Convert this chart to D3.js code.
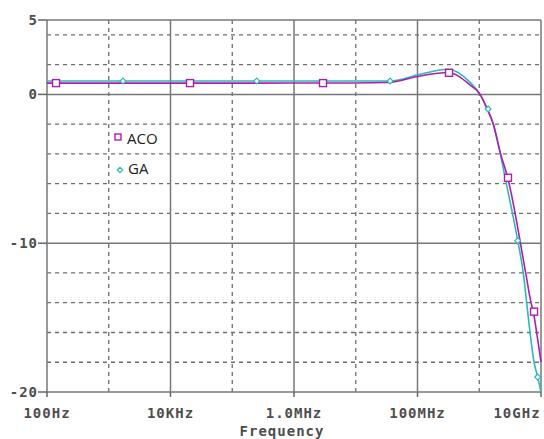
<!DOCTYPE html>
<html>
<head>
<meta charset="utf-8">
<script src="https://cdn.jsdelivr.net/npm/d3@7"></script>
<style>
  body { margin: 0; background: #fff; }
  .tick-label { font-family: "DejaVu Sans Mono", monospace; font-weight: bold; font-size: 14px; fill: #4e4e4e; letter-spacing: 1px; }
  .legend { font-family: "Open Sans", "Noto Sans", sans-serif; font-size: 15px; fill: #222; }
</style>
</head>
<body>
<div id="chart"></div>
<script>
const width = 544, height = 439,
    margin = ({ top: 20, right: 3, bottom: 47, left: 47 });

// frequency axis (Hz) and labels
const xTicks = [1e2, 1e4, 1e6, 1e8, 1e10];
const xTickLabels = ["100Hz", "10KHz", "1.0MHz", "100MHz", "10GHz"];
const xDashed = [1e3, 1e5, 1e7, 1e9];
const yTicks = [5, 0, -10, -20];
const yDashed = [4, 2, -2, -4, -6, -8, -12, -14, -16, -18];

// ACO curve (dB)
const acoFreq = [1e2, 1e5, 1e7, 3.2e7, 3.6e7, 1.1e8, 3.1e8, 7.1e8, 1.03e9, 1.35e9, 1.69e9, 2.22e9, 2.89e9, 5.65e9, 6.89e9, 7.5e9, 8.5e9, 1e10];
const acoVal  = [0.76, 0.76, 0.77, 0.8, 0.81, 1.24, 1.47, 0.63, 0, -1.0, -2.0, -4.0, -5.6, -12.0, -14.0, -14.6, -16.0, -18.0];
// GA curve (dB)
const gaFreq = [1e2, 1e5, 1e7, 3.6e7, 1.1e8, 3.12e8, 7.1e8, 1.03e9, 1.35e9, 1.69e9, 2.19e9, 2.75e9, 4.2e9, 5.16e9, 5.86e9, 6.64e9, 7.71e9, 8.85e9, 1e10];
const gaVal  = [0.9, 0.9, 0.9, 0.9, 1.35, 1.69, 0.81, 0, -0.98, -2.0, -4.0, -6.0, -9.83, -12.0, -14.0, -16.0, -18.0, -19.0, -20.0];

// marker positions
const acoMarkFreq = [1.4e2, 2.07e4, 2.95e6, 3.24e8, 2.92e9, 7.71e9];
const acoMarkVal  = [0.76, 0.76, 0.76, 1.45, -5.6, -14.6];
const gaMarkFreq = [1.7e3, 2.49e5, 3.6e7, 1.39e9, 4.2e9, 8.85e9];
const gaMarkVal  = [0.9, 0.9, 0.9, -0.98, -9.83, -19.0];

const acoColor = "#b01cb0", gaColor = "#2fb8b8";

const svg = d3.select("#chart")
    .append("svg")
    .attr("width", width)
    .attr("height", height);

let x = d3.scaleLog()
    .domain([1e2, 1e10])
    .range([margin.left, width - margin.right]);

let y = d3.scaleLinear()
    .domain([-20, 5])
    .range([392, margin.top]);

const x0 = x.range()[0], x1 = x.range()[1];
const y0 = y.range()[0], y1 = y.range()[1];

// dashed grid
svg.append("g").selectAll("line")
    .data(xDashed)
    .join("line")
    .attr("x1", d => x(d)).attr("x2", d => x(d))
    .attr("y1", y1).attr("y2", y0)
    .attr("stroke", "#6e6e6e")
    .attr("stroke-width", 1.3)
    .attr("stroke-dasharray", "4,4");

svg.append("g").selectAll("line")
    .data(yDashed)
    .join("line")
    .attr("x1", x0).attr("x2", x1)
    .attr("y1", d => y(d)).attr("y2", d => y(d))
    .attr("stroke", "#6e6e6e")
    .attr("stroke-width", 1.3)
    .attr("stroke-dasharray", "4,4");

// solid grid
svg.append("g").selectAll("line")
    .data(xTicks)
    .join("line")
    .attr("x1", d => x(d)).attr("x2", d => x(d))
    .attr("y1", y1).attr("y2", y0)
    .attr("stroke", "#777")
    .attr("stroke-width", 1.5);

svg.append("g").selectAll("line")
    .data(yTicks)
    .join("line")
    .attr("x1", x0).attr("x2", x1)
    .attr("y1", d => y(d)).attr("y2", d => y(d))
    .attr("stroke", "#777")
    .attr("stroke-width", 1.5);

// tick marks
svg.append("g").selectAll("line")
    .data(yTicks)
    .join("line")
    .attr("x1", x0 - 9).attr("x2", x0)
    .attr("y1", d => y(d)).attr("y2", d => y(d))
    .attr("stroke", "#666")
    .attr("stroke-width", 1.5);

svg.append("g").selectAll("line")
    .data(xTicks)
    .join("line")
    .attr("x1", d => x(d)).attr("x2", d => x(d))
    .attr("y1", y0).attr("y2", y0 + 5)
    .attr("stroke", "#666")
    .attr("stroke-width", 1.5);

// tick labels
svg.append("g").selectAll("text")
    .data(yTicks)
    .join("text")
    .attr("class", "tick-label")
    .attr("text-anchor", "end")
    .attr("x", x0 - 9)
    .attr("y", d => y(d))
    .attr("dy", "0.36em")
    .text(d => d);

svg.append("g").selectAll("text")
    .data(xTicks)
    .join("text")
    .attr("class", "tick-label")
    .attr("text-anchor", "middle")
    .attr("x", (d, i) => i == xTicks.length - 1 ? x(d) - 24 : x(d))
    .attr("y", 418)
    .text((d, i) => xTickLabels[i]);

svg.append("text")
    .attr("class", "tick-label")
    .attr("text-anchor", "middle")
    .attr("x", 282)
    .attr("y", 436)
    .text("Frequency");

// curves
svg.append("clipPath").attr("id", "clip")
    .append("rect")
    .attr("x", x0).attr("y", y1)
    .attr("width", x1 - x0 + 1).attr("height", y0 - y1);

let line = d3.line()
    .x(d => x(d[0]))
    .y(d => y(d[1]))
    .curve(d3.curveMonotoneX);

const plot = svg.append("g").attr("clip-path", "url(#clip)");

plot.append("path")
    .datum(d3.zip(gaFreq, gaVal))
    .attr("d", line)
    .attr("fill", "none")
    .attr("stroke", gaColor)
    .attr("stroke-width", 1.6);

plot.append("path")
    .datum(d3.zip(acoFreq, acoVal))
    .attr("d", line)
    .attr("fill", "none")
    .attr("stroke", acoColor)
    .attr("stroke-width", 1.6);

// markers
plot.append("g").selectAll("rect")
    .data(d3.zip(acoMarkFreq, acoMarkVal))
    .join("rect")
    .attr("x", d => x(d[0]) - 3.5)
    .attr("y", d => y(d[1]) - 3.5)
    .attr("width", 7).attr("height", 7)
    .attr("fill", "#fff")
    .attr("stroke", acoColor)
    .attr("stroke-width", 1.4);

const diamond = d3.symbol().type(d3.symbolDiamond2).size(22);
plot.append("g").selectAll("path")
    .data(d3.zip(gaMarkFreq, gaMarkVal))
    .join("path")
    .attr("transform", d => `translate(${x(d[0])},${y(d[1])})`)
    .attr("d", diamond)
    .attr("fill", "#fff")
    .attr("stroke", gaColor)
    .attr("stroke-width", 1.2);

// legend
svg.append("rect")
    .attr("x", 115).attr("y", 134)
    .attr("width", 6).attr("height", 6)
    .attr("fill", "#fff")
    .attr("stroke", acoColor)
    .attr("stroke-width", 1.4);
svg.append("text").attr("class", "legend")
    .attr("x", 127).attr("y", 144)
    .text("ACO");

svg.append("path")
    .attr("transform", "translate(120,170)")
    .attr("d", d3.symbol().type(d3.symbolDiamond2).size(18))
    .attr("fill", "#fff")
    .attr("stroke", gaColor)
    .attr("stroke-width", 1.2);
svg.append("text").attr("class", "legend")
    .attr("x", 128).attr("y", 174)
    .text("GA");
</script>
</body>
</html>
